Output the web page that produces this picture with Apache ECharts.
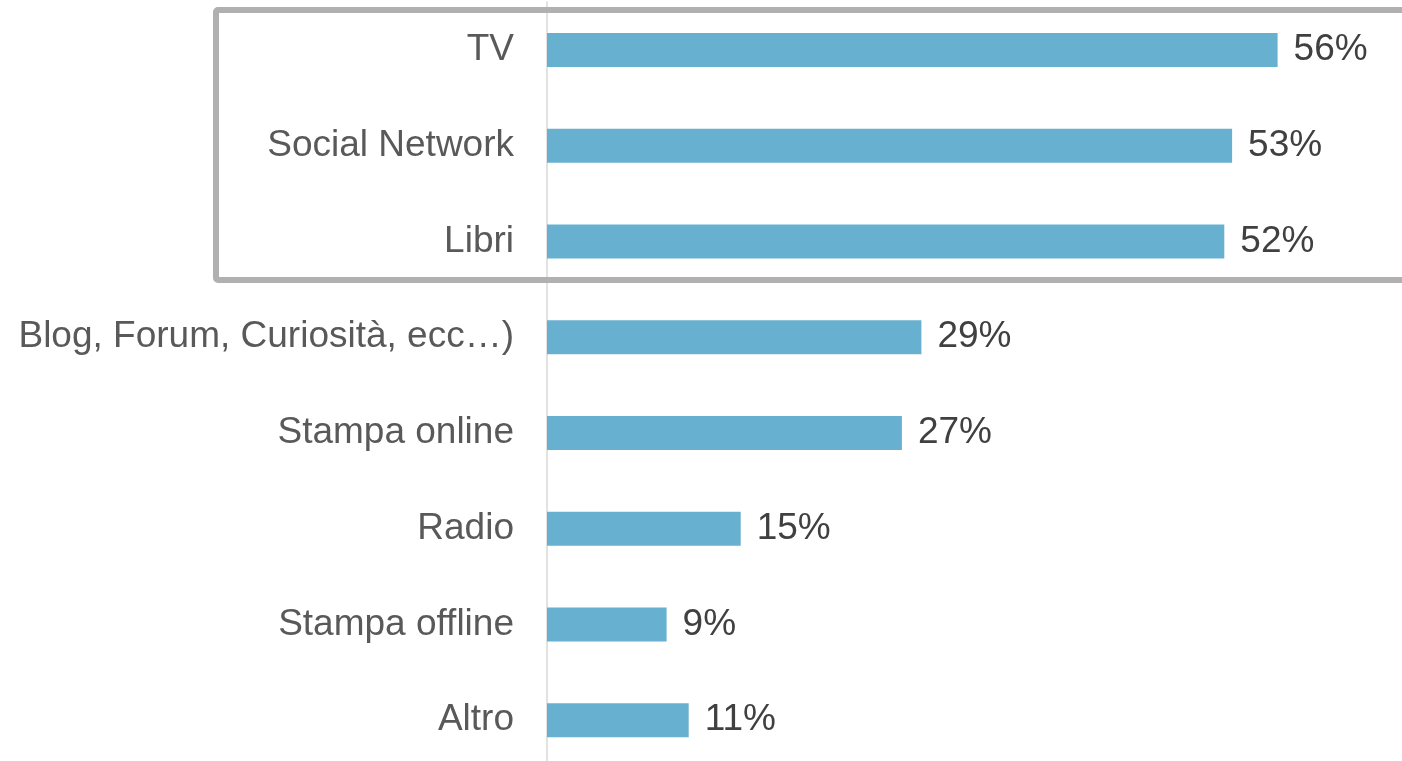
<!DOCTYPE html>
<html>
<head>
<meta charset="utf-8">
<title>Fonti di informazione</title>
<script src="https://cdn.jsdelivr.net/npm/echarts@6/dist/echarts.min.js"></script>
<style>
  html, body { margin: 0; padding: 0; background: #fff; overflow: hidden; }
  /* il grafico originale è tagliato in basso: il contenitore è un po' più alto della finestra */
  #chart { width: 1402px; height: 772px; }
</style>
</head>
<body>
<div id="chart"></div>
<script>
/* categorie (dall'alto verso il basso) */
var categories = ['TV', 'Social Network', 'Libri', 'Blog, Forum, Curiosità, ecc…)',
  'Stampa online', 'Radio', 'Stampa offline', 'Altro'];

var values = [56.2, 52.7, 52.1, 28.8, 27.3, 14.9, 9.2, 10.9];

/* etichette mostrate accanto alle barre */
var valueLabels = ['56%', '53%', '52%', '29%', '27%', '15%', '9%', '11%'];

var chart = echarts.init(document.getElementById('chart'));

var option = {
  backgroundColor: '#ffffff',
  animation: false,
  grid: {
    left: 547,
    width: 845,
    top: 2,
    height: 766
  },
  xAxis: {
    type: 'value',
    min: 0,
    max: 65,
    show: false
  },
  yAxis: {
    type: 'category',
    data: categories,
    inverse: true,
    axisTick: { show: false },
    axisLine: { lineStyle: { color: '#d9d9d9', width: 1.5 } },
    axisLabel: {
      margin: 33,
      fontSize: 37,
      color: '#595959',
      fontFamily: 'Liberation Sans, Arial, sans-serif'
    }
  },
  series: [{
    type: 'bar',
    data: values,
    barWidth: 34,
    itemStyle: { color: '#67b0cf' },
    label: {
      show: true,
      position: 'right',
      distance: 16,
      fontSize: 37,
      color: '#404040',
      fontFamily: 'Liberation Sans, Arial, sans-serif',
      formatter: function (p) { return valueLabels[p.dataIndex]; }
    }
  }],
  // riquadro che evidenzia le prime tre voci
  graphic: [{
    type: 'rect',
    z: 100,
    shape: { x: 216, y: 10, width: 1250, height: 270, r: 2 },
    style: { fill: 'none', stroke: '#b0b0b0', lineWidth: 6 }
  }]
};

chart.setOption(option);
</script>
</body>
</html>
